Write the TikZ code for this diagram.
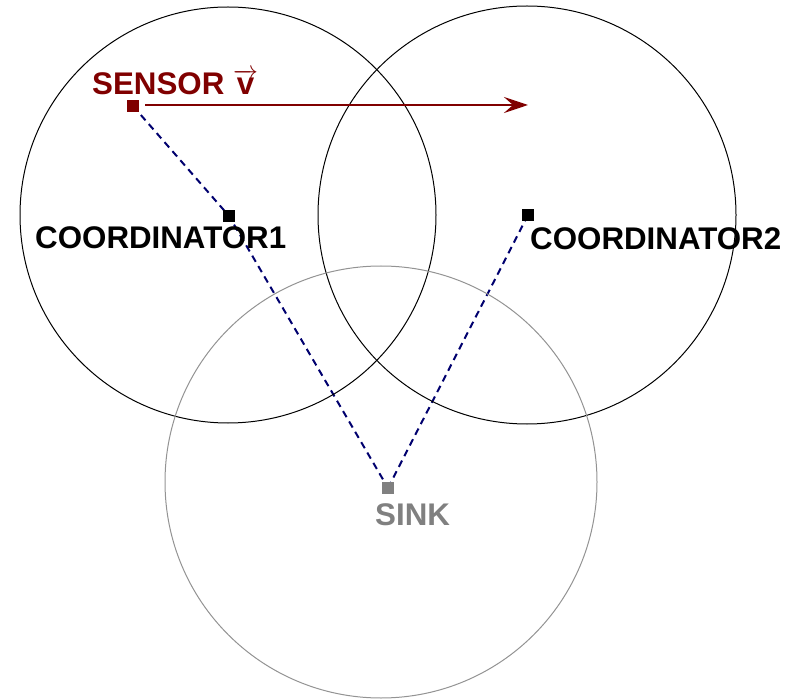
\documentclass[tikz,border=0pt]{standalone}
\usepackage{amsmath}
\usepackage{fontspec}
\setmainfont{Liberation Sans}
\usetikzlibrary{arrows.meta}
\usetikzlibrary{positioning}
\usetikzlibrary{backgrounds}
\definecolor{sensorred}{RGB}{128,0,0}
\definecolor{linkblue}{RGB}{0,0,110}
\definecolor{sinkgray}{RGB}{128,128,128}
\tikzset{mote/.style = {fill, rectangle, inner sep = 0, minimum size = 12}}
\tikzset{tag/.style = {inner sep = 0, anchor = base west, font = \bfseries\fontsize{31.3}{33}\selectfont}}
\tikzset{link/.style = {linkblue, line width = 2, dash pattern = on 7pt off 5pt}}

\begin{document}
\begin{tikzpicture}[x=1pt, y=-1pt]
    \useasboundingbox (0, 0) rectangle (792, 700);

    \draw [line width = 1] (228, 215) circle [radius = 208pt];
    \draw [line width = 1] (527, 215) circle [radius = 209pt];
    \draw [line width = 1, sinkgray!85] (381, 482) circle [radius = 216pt];

    \node [mote, sensorred] (sensor) at (133, 106) {};
    \node [mote] (coordA) at (229, 216) {};
    \node [mote] (coordB) at (528, 215) {};
    \node [mote, sinkgray] (sink) at (388, 488) {};

    \begin{pgfonlayer}{background}
        \draw [link] (sensor.center) -- (coordA.center) -- (sink.center);
        \draw [link] (coordB.center) -- (sink.center);
    \end{pgfonlayer}

    \coordinate (vtip) at (528, 105);
    \draw [sensorred, line width = 2.8, -{Stealth[length = 24pt, width = 16pt, inset = 9pt]}]
        ([xshift = 6pt, yshift = 1pt] sensor.east) -- (vtip);

    \node [tag, sensorred] (sensorlabel) at (92, 95) {SENSOR \ensuremath{\overrightarrow{\text{v}}}};
    \node [tag] (coordAlabel) at (35, 249) {COORDINATOR1};
    \node [tag] (coordBlabel) at (530, 250) {COORDINATOR2};
    \node [tag, sinkgray] (sinklabel) at (375, 525) {SINK};
\end{tikzpicture}
\end{document}
